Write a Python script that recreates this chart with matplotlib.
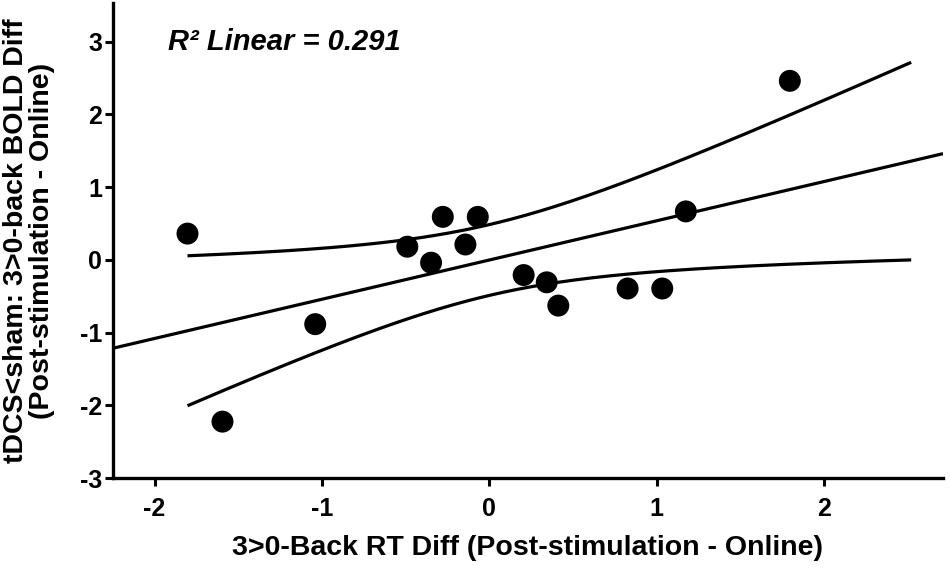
import numpy as np
import matplotlib
matplotlib.use("Agg")
import matplotlib.pyplot as plt

# Data
rt_diff = np.array([-1.803, -1.594, -1.040, -0.490, -0.348, -0.278, -0.143, -0.069,
                    0.205, 0.343, 0.412, 0.826, 1.033, 1.174, 1.795])
bold_diff = np.array([0.36, -2.225, -0.885, 0.18, -0.04, 0.59, 0.21, 0.59,
                      -0.21, -0.31, -0.63, -0.395, -0.395, 0.665, 2.46])
x_ticks = [-2, -1, 0, 1, 2]
y_ticks = [-3, -2, -1, 0, 1, 2, 3]
r2_text = "R\u00b2 Linear = 0.291"
x_label = "3>0-Back RT Diff (Post-stimulation - Online)"
y_label = "tDCS<sham: 3>0-back BOLD Diff\n(Post-stimulation - Online)"

XLIM = (-2.248, 2.71)
YLIM = (-3.0, 3.53)
CI_END = 2.52
T_CRIT = 2.160  # t(0.975, df=13)

plt.rcParams['font.family'] = ['Liberation Sans', 'DejaVu Sans']

fig = plt.figure(figsize=(9.5, 5.69), dpi=100)
ax = fig.add_axes([113/950, 1 - 478/569, (943 - 113)/950, (478 - 3)/569])

# Fit
n = len(rt_diff)
slope, intercept = np.polyfit(rt_diff, bold_diff, 1)
resid = bold_diff - (slope * rt_diff + intercept)
s = np.sqrt(np.sum(resid**2) / (n - 2))
xm = rt_diff.mean()
sxx = np.sum((rt_diff - xm)**2)

xl = np.linspace(XLIM[0], XLIM[1], 200)
ax.plot(xl, slope * xl + intercept, color='black', lw=2.3, solid_capstyle='butt', zorder=2)

xc = np.linspace(rt_diff.min(), CI_END, 300)
fit_c = slope * xc + intercept
se = s * np.sqrt(1.0 / n + (xc - xm)**2 / sxx)
ax.plot(xc, fit_c + T_CRIT * se, color='black', lw=2.3, solid_capstyle='butt', zorder=2)
ax.plot(xc, fit_c - T_CRIT * se, color='black', lw=2.3, solid_capstyle='butt', zorder=2)

ax.scatter(rt_diff, bold_diff, s=250, color='black', edgecolors='none', zorder=3)

ax.set_xlim(*XLIM)
ax.set_ylim(*YLIM)
ax.set_xticks(x_ticks)
ax.set_yticks(y_ticks)
ax.set_xticklabels([str(v) for v in x_ticks], fontsize=18, fontweight='bold')
ax.set_yticklabels([str(v) for v in y_ticks], fontsize=18, fontweight='bold')
ax.tick_params(direction='out', length=6, width=2.2)
ax.tick_params(axis='x', pad=8)
ax.tick_params(axis='y', pad=2)

for sp in ['top', 'right']:
    ax.spines[sp].set_visible(False)
for sp in ['left', 'bottom']:
    ax.spines[sp].set_linewidth(2.4)

ax.set_xlabel(x_label, fontsize=20.5, fontweight='bold', labelpad=10)
ax.set_ylabel(y_label, fontsize=20.5, fontweight='bold', linespacing=1.0)
ax.yaxis.set_label_coords(-0.070, 0.50)

ax.text(168/950, 1 - 42/569, r2_text, transform=fig.transFigure, fontsize=21,
        fontweight='bold', fontstyle='italic', va='center', ha='left')

fig.savefig('out.png', dpi=100, facecolor='white')
